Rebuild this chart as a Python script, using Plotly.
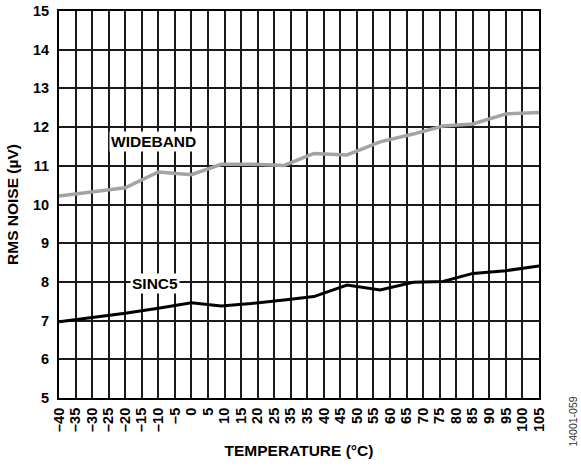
import plotly.graph_objects as go

temps = [-40, -30, -20, -10, 0, 9, 18, 28, 37, 47, 57, 67, 76, 85, 95, 105]
wideband = [10.22, 10.33, 10.43, 10.84, 10.77, 11.04, 11.04, 11.01, 11.32, 11.28, 11.62, 11.82, 12.03, 12.08, 12.34, 12.38]
sinc5 = [6.97, 7.08, 7.19, 7.32, 7.46, 7.38, 7.44, 7.53, 7.62, 7.92, 7.79, 7.99, 8.01, 8.22, 8.29, 8.41]

x_tickvals = list(range(-40, 110, 5))
x_ticktext = ["–40", "–35", "–30", "–25", "–20", "–15", "–10", "–5", "0", "5", "10", "15",
              "20", "25", "35", "35", "40", "45", "50", "55", "60", "65", "70", "75", "80",
              "85", "90", "95", "100", "105"]
y_tickvals = list(range(5, 16))

FONT = "Arial, Liberation Sans, sans-serif"

fig = go.Figure()
fig.add_trace(go.Scatter(x=temps, y=wideband, mode="lines",
                         line=dict(color="#a3a3a3", width=3.5), showlegend=False))
fig.add_trace(go.Scatter(x=temps, y=sinc5, mode="lines",
                         line=dict(color="#000000", width=3), showlegend=False))

fig.update_layout(
    width=581, height=467,
    margin=dict(l=59, r=42, t=11, b=69, autoexpand=False),
    paper_bgcolor="white", plot_bgcolor="white",
    font=dict(family=FONT, color="black"),
    xaxis=dict(range=[-40, 105], tickvals=x_tickvals, ticktext=x_ticktext,
               tickangle=-90, tickfont=dict(size=14.5, family=FONT, weight="bold"),
               showgrid=True, gridcolor="#1a1a1a", gridwidth=1.5,
               showline=True, linecolor="black", linewidth=2, mirror=True,
               ticks="", zeroline=False, automargin=False, ticklabelstandoff=2,
               title=dict(text="<b>TEMPERATURE (°C)</b>", font=dict(size=15.5), standoff=14)),
    yaxis=dict(range=[5, 15], tickvals=y_tickvals,
               tickfont=dict(size=14.5, family=FONT, weight="bold"),
               showgrid=True, gridcolor="#1a1a1a", gridwidth=1.5,
               showline=True, linecolor="black", linewidth=2, mirror=True,
               ticks="", zeroline=False, automargin=False, ticklabelstandoff=5,
               title=dict(text="<b>RMS NOISE (µV)</b>", font=dict(size=15.5), standoff=11)),
)

fig.add_annotation(x=-11.5, y=11.62, text="<b>WIDEBAND</b>", showarrow=False,
                   font=dict(size=15.5), bgcolor="white", borderpad=1)
fig.add_annotation(x=-11, y=7.96, text="<b>SINC5</b>", showarrow=False,
                   font=dict(size=15.5), bgcolor="white", borderpad=1)
fig.add_annotation(xref="paper", yref="paper", x=1.07, y=-0.062, text="14001-059",
                   showarrow=False, textangle=-90, font=dict(size=10.5, color="#333333"),
                   xanchor="center", yanchor="middle")

fig.write_html("out.html", config={"displayModeBar": False},
               post_script="document.body.style.margin='0';")
